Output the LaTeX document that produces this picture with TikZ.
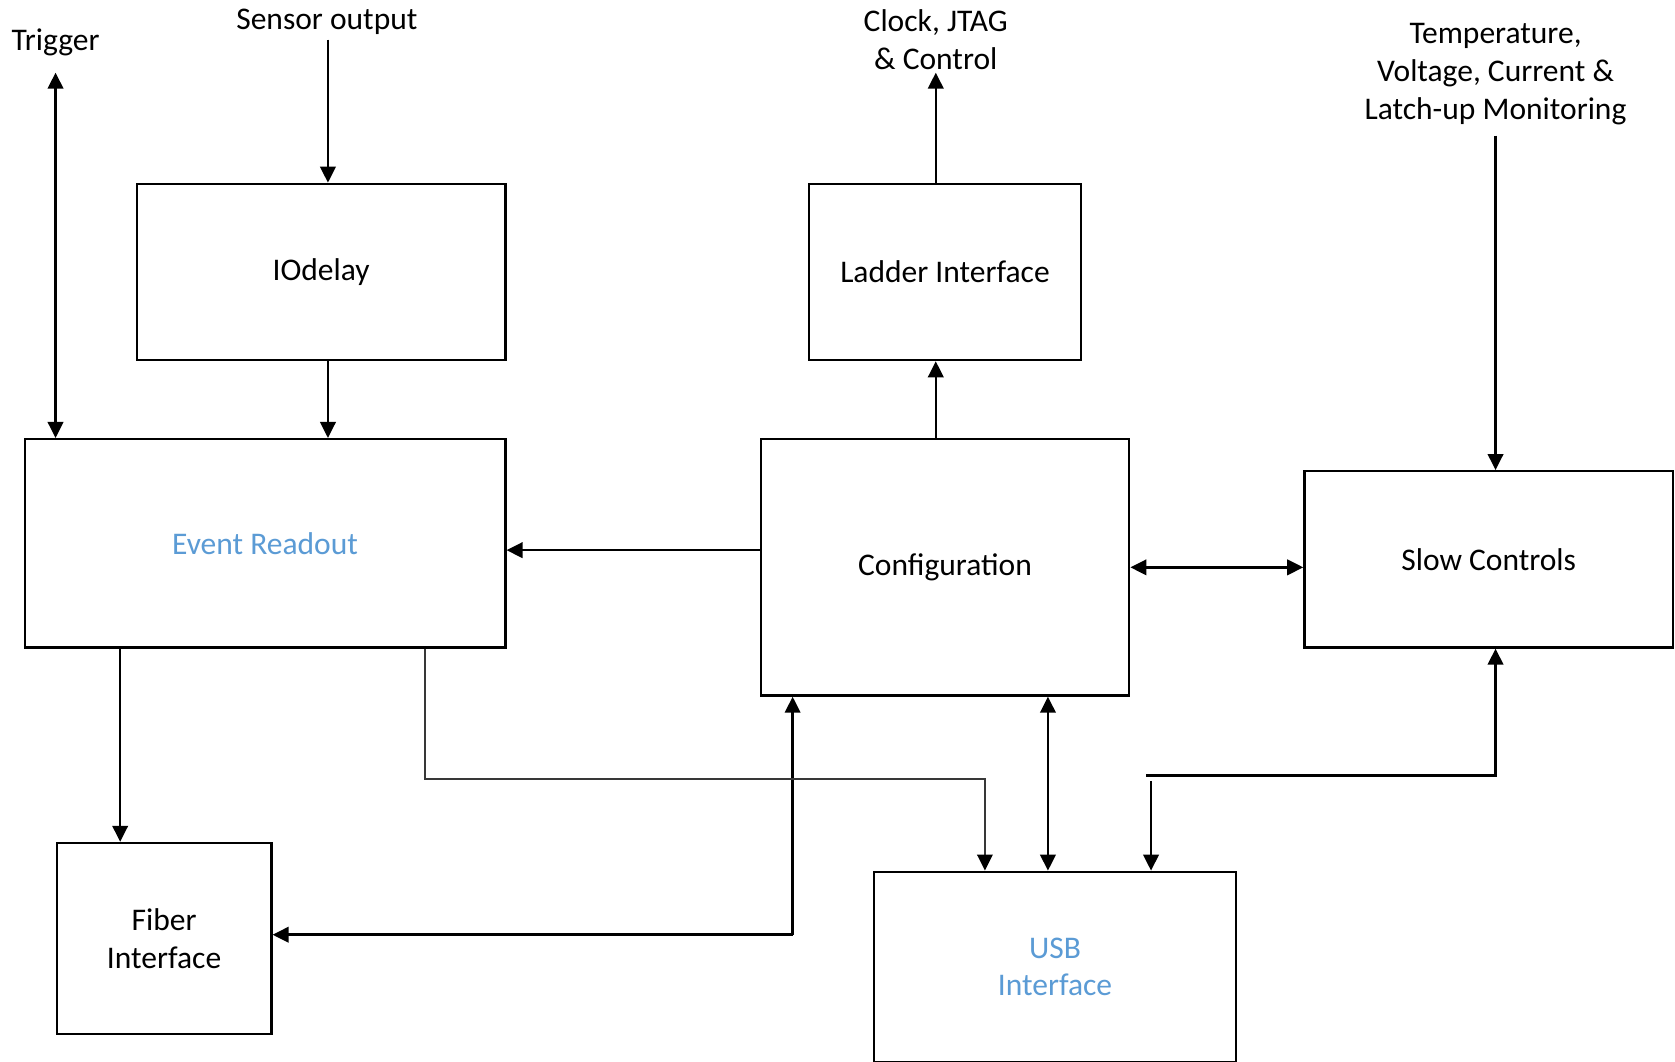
\documentclass[tikz,border=0pt]{standalone}
\usepackage{fontspec}
\setmainfont{Carlito}
\usetikzlibrary{arrows.meta}
\definecolor{obl}{RGB}{91,155,213}
\begin{document}
\begin{tikzpicture}[x=1pt,y=-1pt,
  blk/.style={draw,line width=2.2pt,inner sep=0pt,anchor=north west,align=center,
    font=\fontsize{29.5}{35.5}\selectfont},
  lbl/.style={inner sep=0pt,align=center,font=\fontsize{29.5}{35.5}\selectfont},
  conn/.style={line width=2.3pt,-{Triangle[length=15pt,width=14.5pt]}},
  dconn/.style={line width=2.3pt,{Triangle[length=15pt,width=14.5pt]}-{Triangle[length=15pt,width=14.5pt]}},
  gconn/.style={line width=1.8pt,draw=black!78,-{Triangle[length=15pt,width=14.5pt,color=black,fill=black]}},
]
\useasboundingbox (0,0) rectangle (1568,994);
\fill[white] (0,0) rectangle (1568,994);

% boxes
\node[blk,minimum width=345pt,minimum height=165pt] (io)   at (127,171) {IOdelay};
\node[blk,minimum width=450pt,minimum height=195pt,text=obl] (er) at (22,410) {Event Readout};
\node[blk,minimum width=255pt,minimum height=165pt] (lad)  at (756,171) {Ladder Interface};
\node[blk,minimum width=345pt,minimum height=240pt] (cfg)  at (711,410) {Configuration};
\node[blk,minimum width=345pt,minimum height=165pt] (slow) at (1220,440) {Slow Controls};
\node[blk,minimum width=201pt,minimum height=179pt] (fib)  at (52,788) {Fiber\\Interface};
\node[blk,minimum width=339pt,minimum height=178pt,text=obl] (usb) at (817,815) {USB\\Interface};

% labels
\node[lbl] (trgl) at (52,40) {Trigger};
\node[lbl] (senl) at (306,20) {Sensor output};
\node[lbl] (clkl) at (876,37) {Clock, JTAG\\\& Control};
\node[lbl] (tmpl) at (1400,69) {Temperature,\\Voltage, Current \&\\Latch-up Monitoring};

% helper coordinates
\coordinate (trg) at (52,68);
\coordinate (sen) at (307,37);
\coordinate (p1) at (711,515);
\coordinate (cx) at (876,68);
\coordinate (tmp) at (1400,127);
\coordinate (fx) at (112.5,0);
\coordinate (k1) at (742,875);
\coordinate (k2) at (398,729);
\coordinate (k3) at (922,729);
\coordinate (k4) at (981,0);
\coordinate (k5) at (1073,726);
\coordinate (k6) at (1400,726);
\coordinate (k7) at (1077.5,731);

% connectors
\draw[dconn] (trg) -- (trg |- er.north);
\draw[conn] (sen) -- (sen |- io.north);
\draw[conn] (io.south -| sen) -- (er.north -| sen);
\draw[conn] (p1) -- (p1 -| er.east);
\draw[conn] (cfg.north -| cx) -- (lad.south -| cx);
\draw[conn] (lad.north -| cx) -- (cx);
\draw[conn] (tmp) -- (tmp |- slow.north);
\draw[dconn] (cfg.east) -- (cfg.east -| slow.west);
\draw[conn] (er.south -| fx) -- (fib.north -| fx);
\draw[conn] (k1) -- (k1 -| fib.east);
\draw[conn] (k1) -- (cfg.south -| k1);
\draw[gconn] (er.south -| k2) -- (k2) -- (k3) -- (k3 |- usb.north);
\draw[dconn] (cfg.south -| k4) -- (usb.north -| k4);
\draw[conn] (k5) -- (k6) -- (k6 |- slow.south);
\draw[conn] (k7) -- (k7 |- usb.north);
\end{tikzpicture}
\end{document}
